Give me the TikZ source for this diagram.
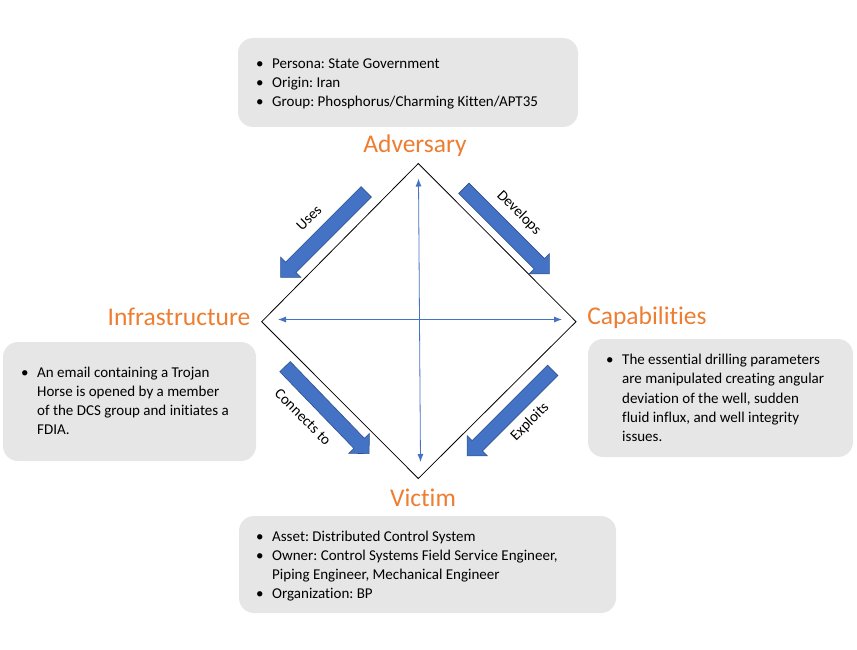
\documentclass[tikz,border=0pt]{standalone}
\usepackage{fontspec}
\setmainfont{Carlito}[Ligatures=NoCommon]
\usetikzlibrary{shapes.arrows,arrows.meta}
\definecolor{boxgray}{HTML}{E6E6E6}
\definecolor{orng}{HTML}{ED7D31}
\definecolor{accblue}{HTML}{4472C4}
\definecolor{darkblue}{HTML}{2F528F}
\newcommand{\bul}{\makebox[16pt][l]{\textbullet}}
\newcommand{\ind}{\hspace*{16pt}}
\frenchspacing
\begin{document}
\begin{tikzpicture}[x=1pt,y=-1pt,
  infobox/.style={draw=none, fill=boxgray, rounded corners=15pt, inner sep=0pt},
  infotext/.style={anchor=west, align=left, inner sep=0pt, font=\fontsize{15}{19.2}\selectfont},
  title/.style={text=orng, inner sep=0pt, font=\fontsize{25.5}{30}\selectfont},
  rel/.style={inner sep=0pt, font=\fontsize{15}{18}\selectfont},
  blockarrow/.style={single arrow, draw=darkblue, fill=accblue, line width=0.6pt,
    inner xsep=0pt, inner ysep=7pt, minimum width=0pt, single arrow head extend=7pt,
    single arrow tip angle=90, minimum height=121pt},
  thinarrow/.style={draw=accblue, line width=0.8pt, {Latex[length=8pt,width=6pt]}-{Latex[length=8pt,width=6pt]}}
]
\useasboundingbox (0,0) rectangle (857,650);

% info boxes
\node[infobox, minimum width=340pt, minimum height=89pt] (advbox) at (408,82.5) {};
\node[infotext] (advtext) at (256,84) {\bul Persona: State Government\\ \bul Origin: Iran\\ \bul Group: Phosphorus/Charming Kitten/APT35};

\node[infobox, minimum width=253pt, minimum height=119pt] (infbox) at (129.5,401.5) {};
\node[infotext] (inftext) at (21,401) {\bul An email containing a Trojan\\ \ind Horse is opened by a member\\ \ind of the DCS group and initiates a\\ \ind FDIA.};

\node[infobox, minimum width=265pt, minimum height=118pt] (capbox) at (720.5,398) {};
\node[infotext] (captext) at (606,398) {\bul The essential drilling parameters\\ \ind are manipulated creating angular\\ \ind deviation of the well, sudden\\ \ind fluid influx, and well integrity\\ \ind issues.};

\node[infobox, minimum width=377pt, minimum height=97pt] (vicbox) at (427.5,564.5) {};
\node[infotext] (victext) at (256,566) {\bul Asset: Distributed Control System\\ \bul Owner: Control Systems Field Service Engineer,\\ \ind Piping Engineer, Mechanical Engineer\\ \bul Organization: BP};

% titles
\node[title] (adv) at (415,146) {Adversary};
\node[title] (inf) at (179,317) {Infrastructure};
\node[title] (cap) at (647,318) {Capabilities};
\node[title] (vic) at (423,498) {Victim};

% diamond
\coordinate (T) at (418.3,163.5);
\coordinate (R) at (576,321.7);
\coordinate (B) at (418.3,478.5);
\coordinate (L) at (261.7,321.7);
\draw[line width=0.8pt] (T) -- (R) -- (B) -- (L) -- cycle;

% inner double arrows
\coordinate (vt) at (418.5,178.5);
\coordinate (vb) at (420.5,462);
\coordinate (hl) at (278,319.5);
\coordinate (hr) at (562,319.5);
\draw[thinarrow] (vt) -- (vb);
\draw[thinarrow] (hl) -- (hr);

% block arrows
\node[blockarrow, rotate=225] (uses) at (326,232) {};
\node[blockarrow, rotate=-45] (develops) at (504,228.5) {};
\node[blockarrow, rotate=-46] (connects) at (324.5,407.5) {};
\node[blockarrow, rotate=225] (exploits) at (512.5,410.5) {};

% relation labels
\node[rel, rotate=45] (usesl) at (309,218) {Uses};
\node[rel, rotate=-45] (devl) at (519,213) {Develops};
\node[rel, rotate=-45] (conl) at (303,417) {Connects to};
\node[rel, rotate=45] (expl) at (530,422) {Exploits};
\end{tikzpicture}
\end{document}
